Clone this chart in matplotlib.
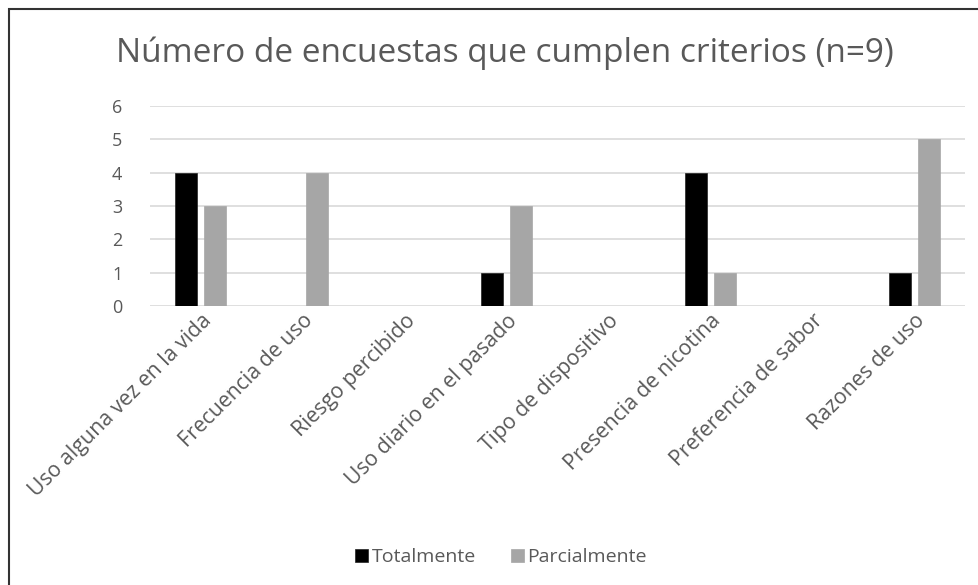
import numpy as np
import matplotlib.pyplot as plt
from matplotlib.patches import Rectangle

categorias = ['Uso alguna vez en la vida', 'Frecuencia de uso', 'Riesgo percibido',
              'Uso diario en el pasado', 'Tipo de dispositivo', 'Presencia de nicotina',
              'Preferencia de sabor', 'Razones de uso']
totalmente = [4, 0, 0, 1, 0, 4, 0, 1]
parcialmente = [3, 4, 0, 3, 0, 1, 0, 5]
y_ticks = [0, 1, 2, 3, 4, 5, 6]

plt.rcParams['font.family'] = ['Open Sans', 'DejaVu Sans']
texto = '#595959'

fig = plt.figure(figsize=(9.79, 5.85), dpi=100)
ax = fig.add_axes([150 / 979, 1 - 306 / 585, 815 / 979, 200 / 585])

x = np.arange(len(categorias))
w = 0.216
off = 0.142
ax.bar(x - off, totalmente, w, color='black', edgecolor='#222222', linewidth=0.5,
       label='Totalmente', zorder=3)
ax.bar(x + off, parcialmente, w, color='#a6a6a6', edgecolor='#a6a6a6', linewidth=0.5,
       label='Parcialmente', zorder=3)

ax.set_xlim(-0.5, len(categorias) - 0.5)
ax.set_ylim(0, 6)
ax.set_yticks(y_ticks)
ax.yaxis.grid(True, color='#d9d9d9', linewidth=1.2, zorder=0)
ax.set_axisbelow(True)
for s in ax.spines.values():
    s.set_visible(False)
ax.tick_params(axis='both', length=0, colors=texto)
ax.tick_params(axis='y', pad=20, labelsize=13)
ax.set_xticks(x)
ax.set_xticklabels(categorias, rotation=45, ha='right', rotation_mode='anchor',
                   color=texto, fontsize=15.3)
ax.tick_params(axis='x', pad=3)

fig.text(0.516, 1 - 53 / 585, 'Número de encuestas que cumplen criterios (n=9)',
         ha='center', va='center', fontsize=24, color=texto)

ax.legend(loc='center', bbox_to_anchor=(501 / 979, 1 - 557 / 585),
          bbox_transform=fig.transFigure, ncol=2, frameon=False,
          fontsize=14, labelcolor=texto, handlelength=0.65, handleheight=0.65,
          handletextpad=0.2, columnspacing=1.8)

fig.patches.append(Rectangle((9 / 979, -0.05), 1.1, 1 - 9 / 585 + 0.05,
                             transform=fig.transFigure, fill=False,
                             edgecolor='#333333', linewidth=1.5))

fig.savefig('out.png', dpi=100)
